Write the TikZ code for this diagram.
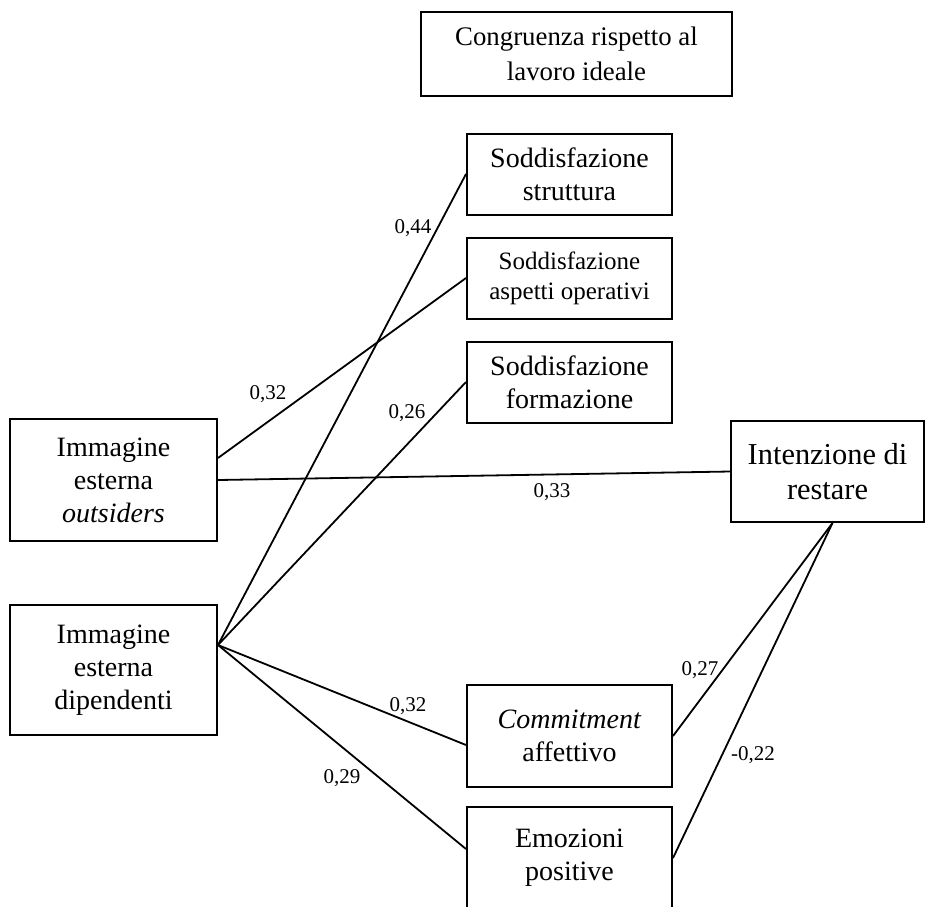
\documentclass[tikz,border=0pt]{standalone}
\usepackage{fontspec}
\setmainfont{Liberation Serif}
\usetikzlibrary{positioning}
\tikzstyle{varbox} = [rectangle, draw=black, line width=1pt, text centered, align=center, inner sep=0pt, font=\fontsize{14}{16.5}\selectfont]
\tikzstyle{soddbox} = [varbox, minimum width=102.5pt, minimum height=40.5pt]
\tikzstyle{extbox} = [varbox, minimum width=103.5pt, minimum height=61pt]
\tikzstyle{outbox} = [varbox, minimum width=102.5pt, minimum height=51pt]
\tikzstyle{link} = [line width=0.9pt]
\tikzstyle{coef} = [inner sep=0pt, font=\fontsize{10.5}{12}\selectfont]

\begin{document}
\begin{tikzpicture}[x=0.5pt, y=-0.5pt]
				\clip (0,0) rectangle (925,906);
				
				\node (congr) [varbox, minimum width=155.5pt, minimum height=42pt, font=\fontsize{13.4}{17.5}\selectfont] at (576.5,54) {Congruenza rispetto al\\lavoro ideale};
				\node (strutt) [soddbox] at (569.5,174) {Soddisfazione\\struttura};
				\node (aspetti) [soddbox, below=10.5pt of strutt, font=\fontsize{12.5}{15}\selectfont] {Soddisfazione\\aspetti operativi};
				\node (formaz) [soddbox, below=10.5pt of aspetti] {Soddisfazione\\formazione};
				\node (outsid) [extbox] at (113.5,480) {Immagine\\esterna\\\textit{outsiders}};
				\node (dipend) [extbox, below=31pt of outsid, minimum height=65pt] {Immagine\\esterna\\dipendenti};
				\node (intenz) [varbox, minimum width=96.5pt, minimum height=50.5pt, font=\fontsize{15.2}{17.5}\selectfont] at (827.5,471.5) {Intenzione di\\restare};
				\node (commit) [outbox] at (569.5,736) {\textit{Commitment}\\affettivo};
				\node (emoz) [outbox, below=9pt of commit] {Emozioni\\positive};
				
				\coordinate (hub) at ([yshift=12.5pt]dipend.east);
				\coordinate (sink) at ([xshift=2.5pt]intenz.south);
				
				% Paths
				\draw [link] ([yshift=11pt]outsid.east) -- (aspetti.west);
				\draw [link] (outsid.east) -- (intenz.west);
				\draw [link] (hub) -- (strutt.west);
				\draw [link] (hub) -- (formaz.west);
				\draw [link] (hub) -- ([yshift=-4.5pt]commit.west);
				\draw [link] (hub) -- ([yshift=4.5pt]emoz.west);
				\draw [link] (commit.east) -- (sink);
				\draw [link] (emoz.east) -- (sink);
				
				% Coefficients
				\node (c1) [coef] at (268,394) {0,32};
				\node (c2) [coef] at (552,492) {0,33};
				\node (c3) [coef] at (413,228) {0,44};
				\node (c4) [coef] at (407,413) {0,26};
				\node (c5) [coef] at (408,706) {0,32};
				\node (c6) [coef] at (342,778) {0,29};
				\node (c7) [coef] at (700,670) {0,27};
				\node (c8) [coef] at (753,755) {-0,22};
\end{tikzpicture}
\end{document}
